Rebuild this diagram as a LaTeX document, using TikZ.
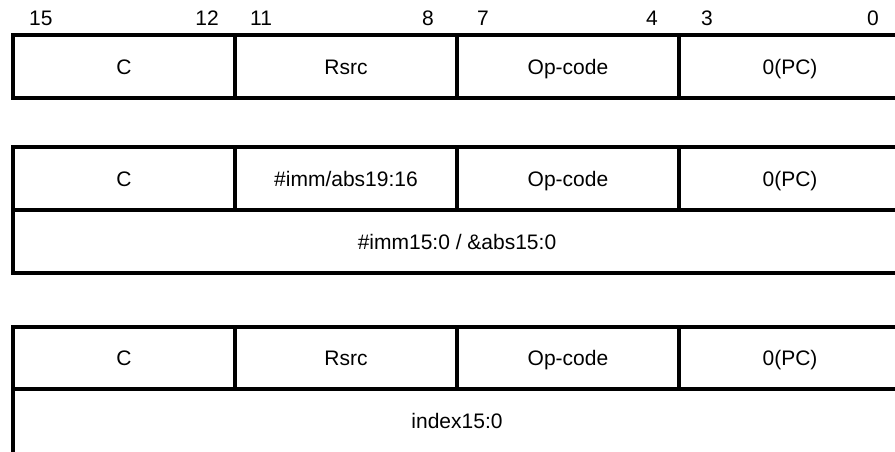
\documentclass[tikz,border=0pt]{standalone}
\usepackage{fontspec}
\setmainfont{Liberation Sans}
\begin{document}
\begin{tikzpicture}[x=1pt,y=-1pt,
  cell/.style={draw, line width=3.2pt, rectangle, inner sep=0pt,
    minimum width=222pt, minimum height=63pt, text height=15pt, text depth=0pt,
    font=\fontsize{21}{25}\selectfont},
  wide/.style={cell, minimum width=888pt},
  bitno/.style={inner sep=0pt, font=\fontsize{21}{25}\selectfont}]
\useasboundingbox (0,0) rectangle (895,451);
\clip (0,0) rectangle (895,451);
% bit numbers
\node[bitno, anchor=base west] (b15) at (29,25) {15};
\node[bitno, anchor=base east] (b12) at (219,25) {12};
\node[bitno, anchor=base west] (b11) at (250,25) {11};
\node[bitno, anchor=base east] (b8) at (434,25) {8};
\node[bitno, anchor=base west] (b7) at (477,25) {7};
\node[bitno, anchor=base east] (b4) at (658,25) {4};
\node[bitno, anchor=base west] (b3) at (701,25) {3};
\node[bitno, anchor=base east] (b0) at (879,25) {0};
% row 1
\node[cell] (a1) at (124,66.5) {C};
\node[cell] (a2) at (346,66.5) {Rsrc};
\node[cell] (a3) at (568,66.5) {Op-code};
\node[cell] (a4) at (790,66.5) {0(PC)};
% row 2
\node[cell] (c1) at (124,178.5) {C};
\node[cell] (c2) at (346,178.5) {\#imm/abs19:16};
\node[cell] (c3) at (568,178.5) {Op-code};
\node[cell] (c4) at (790,178.5) {0(PC)};
\node[wide] (c5) at (457,241.5) {\#imm15:0 / \&abs15:0};
% row 3
\node[cell, minimum height=62pt] (d1) at (124,358) {C};
\node[cell, minimum height=62pt] (d2) at (346,358) {Rsrc};
\node[cell, minimum height=62pt] (d3) at (568,358) {Op-code};
\node[cell, minimum height=62pt] (d4) at (790,358) {0(PC)};
\node[wide, minimum height=64.5pt] (d5) at (457,421.25) {index15:0};
\end{tikzpicture}
\end{document}
